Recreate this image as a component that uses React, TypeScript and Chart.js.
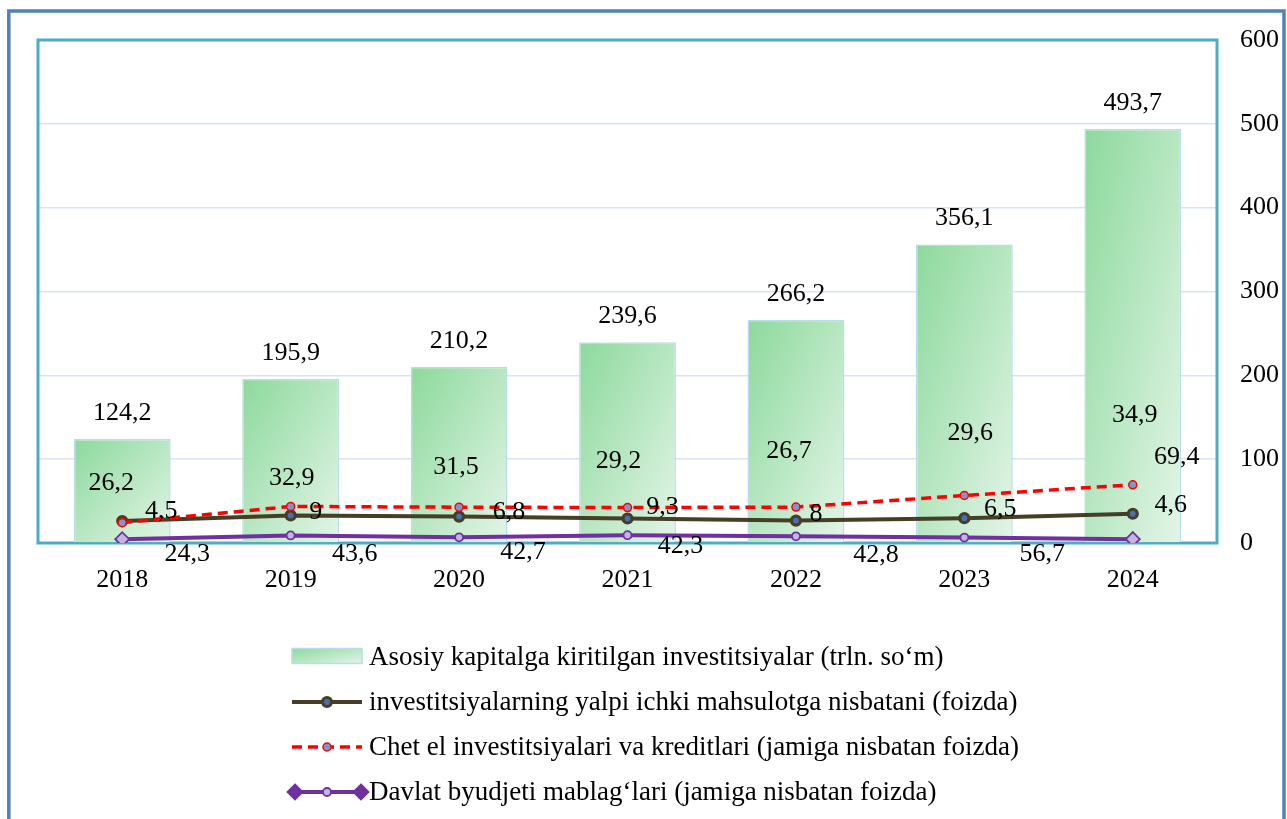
import React, { useEffect, useRef } from 'react';
import { Chart, registerables } from 'chart.js';

Chart.register(...registerables);

// ---------- data ----------
const years = ['2018', '2019', '2020', '2021', '2022', '2023', '2024'];
const investments = [124.2, 195.9, 210.2, 239.6, 266.2, 356.1, 493.7];
const gdpShare = [26.2, 32.9, 31.5, 29.2, 26.7, 29.6, 34.9];
const foreignShare = [24.3, 43.6, 42.7, 42.3, 42.8, 56.7, 69.4];
const budgetShare = [4.5, 9, 6.8, 9.3, 8, 6.5, 4.6];
const yTickValues = [0, 100, 200, 300, 400, 500, 600];

const seriesNames = [
  'Asosiy kapitalga kiritilgan investitsiyalar (trln. so\u2018m)',
  'investitsiyalarning yalpi ichki mahsulotga nisbatani (foizda)',
  'Chet el investitsiyalari va kreditlari (jamiga nisbatan foizda)',
  'Davlat byudjeti mablag\u2018lari (jamiga nisbatan foizda)',
];

// label placement offsets (pixels, relative to each point)
const gdpLabelOffsets = [[-11, -38], [1, -37], [-3, -49], [-9, -57], [-7, -69], [6, -85], [2, -99]];
const foreignLabelOffsets = [[65, 32], [64, 48], [64, 45], [53, 39], [80, 48], [78, 59], [44, -28]];
const budgetLabelOffsets = [[39, -28], [25, -23], [50, -25], [35, -28], [20, -22], [36, -28], [38, -34]];

// ---------- styles ----------
const FONT = "'Liberation Serif', 'Times New Roman', serif";
const BAR_FRACTION = 0.575;
const OLIVE = '#443f25';
const RED = '#ff0000';
const PURPLE = '#7030a0';
const CYAN = '#4bacc6';
const BLUE = '#4f81bd';

const fmt = (v: number) => String(v).replace('.', ',');

function makeGrad(c: CanvasRenderingContext2D, x0: number, y0: number, w: number, h: number) {
  const k = (2 * w * h) / (w * w + h * h);
  const g = c.createLinearGradient(x0, y0, x0 + h * k, y0 + w * k);
  g.addColorStop(0, '#8cd99c');
  g.addColorStop(1, '#e4f5e8');
  return g;
}

function barGradient(ctx: any) {
  const chart = ctx.chart;
  const { chartArea, scales } = chart;
  if (!chartArea || ctx.type !== 'data' || !scales.x || !scales.y) return '#a8e2b4';
  const i = ctx.dataIndex;
  const x = scales.x.getPixelForValue(i);
  const w = ((chartArea.right - chartArea.left) / years.length) * BAR_FRACTION;
  const top = scales.y.getPixelForValue(investments[i]);
  const bottom = scales.y.getPixelForValue(0);
  return makeGrad(chart.ctx, x - w / 2, top, w, Math.max(1, bottom - top));
}

const framePlugin = {
  id: 'frame',
  beforeDatasetsDraw(chart: any) {
    const { ctx, chartArea: a } = chart;
    ctx.save();
    ctx.strokeStyle = CYAN;
    ctx.lineWidth = 3;
    ctx.strokeRect(a.left, a.top, a.right - a.left, a.bottom - a.top);
    ctx.restore();
  },
  afterDraw(chart: any) {
    const { ctx } = chart;
    ctx.save();
    ctx.strokeStyle = BLUE;
    ctx.lineWidth = 3.5;
    ctx.beginPath();
    ctx.moveTo(8.8, 900);
    ctx.lineTo(8.8, 11);
    ctx.lineTo(1284, 11);
    ctx.lineTo(1284, 900);
    ctx.stroke();
    ctx.restore();
  },
};

const labelsPlugin = {
  id: 'valueLabels',
  afterDatasetsDraw(chart: any) {
    const { ctx } = chart;
    ctx.save();
    ctx.font = `26px ${FONT}`;
    ctx.fillStyle = '#000';
    ctx.textAlign = 'center';
    ctx.textBaseline = 'middle';
    const offsetsByDataset: any[] = [null, gdpLabelOffsets, foreignLabelOffsets, budgetLabelOffsets];
    chart.data.datasets.forEach((ds: any, di: number) => {
      const meta = chart.getDatasetMeta(di);
      meta.data.forEach((el: any, i: number) => {
        const v = ds.data[i];
        if (di === 0) {
          ctx.fillText(fmt(v), el.x, el.y - 26);
        } else {
          const [dx, dy] = offsetsByDataset[di][i];
          ctx.fillText(fmt(v), el.x + dx, el.y + dy);
        }
      });
    });
    ctx.restore();
  },
};

const legendPlugin = {
  id: 'customLegend',
  afterDraw(chart: any) {
    const { ctx } = chart;
    const x0 = 292;
    const x1 = 362;
    const textX = 369;
    const rows = [657, 702, 747, 792];
    ctx.save();
    chart.data.datasets.forEach((ds: any, di: number) => {
      const y = rows[di];
      if (di === 0) {
        const h = 15;
        ctx.fillStyle = makeGrad(ctx, x0, y - h / 2 - 1, x1 - x0, h);
        ctx.fillRect(x0, y - h / 2 - 1, x1 - x0, h);
        ctx.strokeStyle = '#b7dde8';
        ctx.lineWidth = 1.5;
        ctx.strokeRect(x0, y - h / 2 - 1, x1 - x0, h);
      } else {
        ctx.strokeStyle = ds.borderColor;
        ctx.lineWidth = ds.borderWidth;
        ctx.setLineDash(ds.borderDash || []);
        ctx.beginPath();
        ctx.moveTo(x0, y);
        ctx.lineTo(x1, y);
        ctx.stroke();
        ctx.setLineDash([]);
        const mid = (x0 + x1) / 2;
        const drawMarker = (style: string, px: number, r: number, fill: string) => {
          ctx.fillStyle = fill;
          ctx.strokeStyle = ds.pointBorderColor;
          ctx.lineWidth = ds.pointBorderWidth;
          ctx.beginPath();
          if (style === 'rectRot') {
            ctx.moveTo(px, y - r);
            ctx.lineTo(px + r, y);
            ctx.lineTo(px, y + r);
            ctx.lineTo(px - r, y);
            ctx.closePath();
          } else {
            ctx.arc(px, y, r, 0, Math.PI * 2);
          }
          ctx.fill();
          ctx.stroke();
        };
        if (di === 3) {
          drawMarker('rectRot', x0 + 3, 7.5, PURPLE);
          drawMarker('rectRot', x1 - 1, 7.5, PURPLE);
          drawMarker('circle', mid, 4, ds.pointBackgroundColor);
        } else {
          drawMarker('circle', mid, di === 1 ? 4.5 : 4, ds.pointBackgroundColor);
        }
      }
      ctx.fillStyle = '#000';
      ctx.font = `27px ${FONT}`;
      ctx.textAlign = 'left';
      ctx.textBaseline = 'middle';
      ctx.fillText(seriesNames[di], textX, y + 1);
    });
    ctx.restore();
  },
};

export default function App() {
  const canvasRef = useRef<HTMLCanvasElement | null>(null);

  useEffect(() => {
    const canvas = canvasRef.current;
    if (!canvas) return;
    const chart = new Chart(canvas, {
      type: 'bar',
      data: {
        labels: years,
        datasets: [
          {
            type: 'bar',
            label: seriesNames[0],
            data: investments,
            backgroundColor: barGradient,
            borderColor: '#b7dde8',
            borderWidth: 1.5,
            categoryPercentage: 1,
            barPercentage: BAR_FRACTION,
            order: 4,
          } as any,
          {
            type: 'line',
            label: seriesNames[1],
            data: gdpShare,
            borderColor: OLIVE,
            borderWidth: 4,
            pointRadius: 4.5,
            pointBorderWidth: 3.2,
            pointBorderColor: OLIVE,
            pointBackgroundColor: '#4a6fb0',
            tension: 0,
            order: 3,
          },
          {
            type: 'line',
            label: seriesNames[2],
            data: foreignShare,
            borderColor: RED,
            borderWidth: 3.5,
            borderDash: [10, 6],
            pointRadius: 4,
            pointBorderWidth: 1.5,
            pointBorderColor: RED,
            pointBackgroundColor: '#7f96cc',
            tension: 0,
            order: 2,
          },
          {
            type: 'line',
            label: seriesNames[3],
            data: budgetShare,
            borderColor: PURPLE,
            borderWidth: 4,
            pointStyle: ['rectRot', 'circle', 'circle', 'circle', 'circle', 'circle', 'rectRot'],
            pointRadius: [7, 4, 4, 4, 4, 4, 7],
            pointBorderWidth: 1.8,
            pointBorderColor: PURPLE,
            pointBackgroundColor: '#c2b6e0',
            tension: 0,
            order: 1,
          },
        ],
      },
      options: {
        responsive: false,
        animation: false,
        events: [],
        layout: { padding: { left: 38, top: 40, right: 0, bottom: 216 } },
        plugins: {
          legend: { display: false },
          tooltip: { enabled: false },
          title: { display: false },
        },
        scales: {
          x: {
            grid: { display: false },
            border: { display: false },
            ticks: { color: '#000', font: { family: FONT, size: 26 }, padding: 14, maxRotation: 0 },
            afterFit(scale: any) {
              scale.height = 60;
            },
          },
          y: {
            position: 'right',
            min: 0,
            max: 600,
            afterBuildTicks(scale: any) {
              scale.ticks = yTickValues.map((v) => ({ value: v }));
            },
            grid: { color: '#d8e4f1', lineWidth: 1.5, drawTicks: false },
            border: { display: false },
            ticks: { color: '#000', font: { family: FONT, size: 26 }, padding: 23 },
            afterFit(scale: any) {
              scale.width = 70;
            },
          },
        },
      },
      plugins: [framePlugin, labelsPlugin, legendPlugin],
    });
    return () => chart.destroy();
  }, []);

  return (
    <div style={{ position: 'fixed', left: 0, top: 0, width: 1287, height: 819, background: '#fff' }}>
      <canvas ref={canvasRef} width={1287} height={819} style={{ display: 'block' }} />
    </div>
  );
}
